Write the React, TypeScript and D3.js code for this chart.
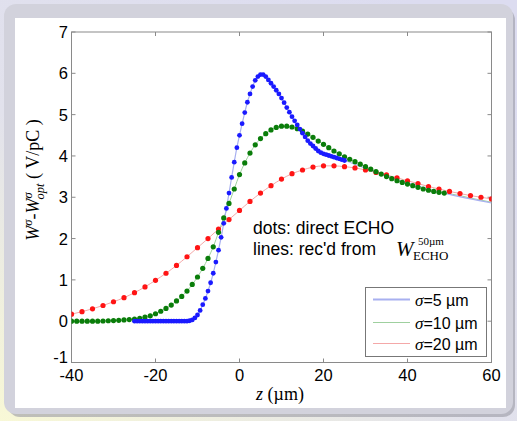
import React from "react";
import * as d3 from "d3";

// ---- data ----
const blueZ: number[] = d3.range(0, 81).map((i) => -25 + 0.625 * i);
const blueV: number[] = [
  0, 0, 0, 0, 0, 0, 0, 0, 0, 0,
  0, 0, 0, 0, 0, 0, 0, 0, 0, 0,
  0, 0.01, 0.03, 0.08, 0.15, 0.26, 0.4, 0.55, 0.73, 0.93,
  1.16, 1.43, 1.72, 2.03, 2.37, 2.73, 3.1, 3.48, 3.85, 4.2,
  4.5, 4.78, 5.05, 5.3, 5.5, 5.68, 5.83, 5.92, 5.97, 5.97,
  5.92, 5.84, 5.76, 5.68, 5.59, 5.5, 5.4, 5.29, 5.17, 5.06,
  4.95, 4.85, 4.75, 4.65, 4.55, 4.46, 4.37, 4.3, 4.24, 4.18,
  4.12, 4.08, 4.05, 4.03, 4.01, 3.99, 3.97, 3.95, 3.93, 3.91,
  3.89,
];
const blueTailZ: number[] = [30, 35, 40, 45, 50, 55, 60];
const blueTailV: number[] = [3.7, 3.52, 3.35, 3.2, 3.07, 2.96, 2.86];

const greenZ: number[] = d3.range(0, 72).map((i) => -40 + 1.25 * i);
const greenV: number[] = [
  0, 0, 0, 0, 0, 0, 0.005, 0.01, 0.015, 0.02,
  0.03, 0.04, 0.05, 0.07, 0.1, 0.13, 0.18, 0.24, 0.31, 0.39,
  0.49, 0.6, 0.73, 0.89, 1.07, 1.28, 1.52, 1.8, 2.15, 2.5,
  2.85, 3.2, 3.55, 3.83, 4.07, 4.27, 4.42, 4.54, 4.63, 4.69,
  4.72, 4.72, 4.7, 4.66, 4.6, 4.53, 4.45, 4.36, 4.28, 4.2,
  4.12, 4.05, 3.98, 3.92, 3.86, 3.8, 3.74, 3.68, 3.62, 3.56,
  3.5, 3.45, 3.4, 3.36, 3.32, 3.28, 3.24, 3.2, 3.17, 3.14,
  3.12, 3.1,
];
const greenTailZ: number[] = [52.5, 55, 57.5, 60];
const greenTailV: number[] = [3.04, 2.98, 2.93, 2.88];

const redZ: number[] = d3.range(0, 41).map((i) => -40 + 2.5 * i);
const redV: number[] = [
  0.17, 0.23, 0.3, 0.38, 0.47, 0.57, 0.69, 0.83, 0.99, 1.16,
  1.35, 1.56, 1.78, 2.0, 2.23, 2.46, 2.68, 2.9, 3.1, 3.28,
  3.44, 3.57, 3.66, 3.73, 3.76, 3.76, 3.74, 3.71, 3.66, 3.6,
  3.54, 3.47, 3.4, 3.33, 3.26, 3.2, 3.14, 3.09, 3.04, 3.0,
  2.96,
];

const xTicks: number[] = [-40, -20, 0, 20, 40, 60];
const yTicks: number[] = [-1, 0, 1, 2, 3, 4, 5, 6, 7];
const legendLabels: string[] = ["=5 \u00b5m", "=10 \u00b5m", "=20 \u00b5m"];

const DOT = { blue: "#1a1aff", green: "#0a7d0a", red: "#ff1414" };
const LINE = { blue: "#a8b0f0", green: "#9fd09f", red: "#f4a8a8" };

const W = 517;
const H = 421;
const PL = 71.5, PR = 491.5, PT = 32, PB = 362.5;

export default function App() {
  const x = d3.scaleLinear().domain([-40, 60]).range([PL, PR]);
  const y = d3.scaleLinear().domain([-1, 7]).range([PB, PT]);
  const line = d3
    .line<[number, number]>()
    .x((d) => x(d[0]))
    .y((d) => y(d[1]))
    .curve(d3.curveMonotoneX);

  const zip = (a: number[], b: number[]) => a.map((v, i) => [v, b[i]] as [number, number]);
  const blue = zip(blueZ, blueV);
  const green = zip(greenZ, greenV);
  const red = zip(redZ, redV);
  const blueLine = [...blue, ...zip(blueTailZ, blueTailV)];
  const greenLine = [...green, ...zip(greenTailZ, greenTailV)];

  const sans = "Liberation Sans, Arial, sans-serif";
  const serif = "Liberation Serif, Times New Roman, serif";

  return (
    <svg width={W} height={H} style={{ position: "absolute", left: 0, top: 0, display: "block" }}>
      <defs>
        <linearGradient id="bg" x1="0.8" y1="0" x2="0" y2="1">
          <stop offset="0" stopColor="#dcdcf0" />
          <stop offset="0.55" stopColor="#e2e2ec" />
          <stop offset="1" stopColor="#f8f8d6" />
        </linearGradient>
        <clipPath id="plotclip">
          <rect x={PL} y={PT} width={PR - PL} height={PB - PT} />
        </clipPath>
      </defs>
      <rect x={0} y={0} width={W} height={H} fill="url(#bg)" />
      {/* shadow */}
      <rect x={8} y={8} width={507} height={409} rx={12} fill="#9a9aa4" opacity={0.6} />
      <rect x={4} y={4} width={509} height={410} rx={12} fill="#d2d2dc" />
      <rect x={15} y={18} width={491} height={390} fill="#ffffff" />

      {/* axes box */}
      <rect x={PL} y={PT} width={PR - PL} height={PB - PT} fill="none" stroke="#8a8a8a" strokeWidth={1} />
      {xTicks.map((t) => (
        <g key={"xt" + t}>
          <line x1={x(t)} x2={x(t)} y1={PB} y2={PB - 4} stroke="#8a8a8a" />
          <line x1={x(t)} x2={x(t)} y1={PT} y2={PT + 4} stroke="#8a8a8a" />
          <text x={x(t)} y={381} textAnchor="middle" fontFamily={sans} fontSize={16.5} fill="#000">
            {t}
          </text>
        </g>
      ))}
      {yTicks.map((t) => (
        <g key={"yt" + t}>
          <line x1={PL} x2={PL + 4} y1={y(t)} y2={y(t)} stroke="#8a8a8a" />
          <line x1={PR} x2={PR - 4} y1={y(t)} y2={y(t)} stroke="#8a8a8a" />
          <text
            x={68}
            y={t === -1 ? y(t) + 0.5 : y(t) + 6}
            textAnchor="end"
            fontFamily={sans}
            fontSize={16.5}
            fill="#000"
          >
            {t}
          </text>
        </g>
      ))}

      {/* axis labels */}
      <text
        transform="translate(39,180) rotate(-90)"
        textAnchor="middle"
        fontFamily={serif}
        fontSize={18}
        fill="#000"
      >
        <tspan fontStyle="italic">W</tspan>
        <tspan fontStyle="italic" fontSize={12.5} dy={-7}>σ</tspan>
        <tspan dy={7}>-</tspan>
        <tspan fontStyle="italic">W</tspan>
        <tspan fontStyle="italic" fontSize={12.5} dy={-7}>σ</tspan>
        <tspan fontStyle="italic" fontSize={12.5} dx={-7} dy={12}>opt</tspan>
        <tspan dy={-5}> ( V/pC )</tspan>
      </text>
      <text x={280} y={400} textAnchor="middle" fontFamily={serif} fontSize={18} fill="#000">
        <tspan fontStyle="italic">z</tspan> (µm)
      </text>

      {/* series */}
      <g clipPath="url(#plotclip)">
        <path d={line(red) || ""} fill="none" stroke={LINE.red} strokeWidth={1} />
        <path d={line(greenLine) || ""} fill="none" stroke={LINE.green} strokeWidth={1} />
        <path d={line(blueLine) || ""} fill="none" stroke={LINE.blue} strokeWidth={1.2} />
        {red.map((d, i) => (
          <circle key={"r" + i} cx={x(d[0])} cy={y(d[1])} r={2.6} fill={DOT.red} />
        ))}
        {green.map((d, i) => (
          <circle key={"g" + i} cx={x(d[0])} cy={y(d[1])} r={2.6} fill={DOT.green} />
        ))}
        {blue.map((d, i) => (
          <circle key={"b" + i} cx={x(d[0])} cy={y(d[1])} r={2.4} fill={DOT.blue} />
        ))}
      </g>

      {/* annotation */}
      <text x={253} y={234} fontFamily={sans} fontSize={17.5} fill="#000">dots: direct ECHO</text>
      <text x={253} y={255} fontFamily={sans} fontSize={17.5} fill="#000">lines: rec'd from</text>
      <text x={396} y={256} fontFamily={serif} fontStyle="italic" fontSize={21} fill="#000">W</text>
      <text x={418} y={245} fontFamily={serif} fontSize={11} fill="#000">50µm</text>
      <text x={413} y={260} fontFamily={serif} fontSize={13} fill="#000">ECHO</text>

      {/* legend */}
      <rect x={365.5} y={287.5} width={121} height={69} fill="#fff" stroke="#777" strokeWidth={1} />
      {legendLabels.map((lab, i) => {
        const yy = [299.5, 322.5, 343.5][i];
        const col = [LINE.blue, LINE.green, LINE.red][i];
        return (
          <g key={"lg" + i}>
            <line x1={373} x2={410} y1={yy} y2={yy} stroke={col} strokeWidth={i === 0 ? 2 : 1.2} />
            <text x={415} y={yy + 6} fontFamily={sans} fontSize={16} fill="#000">
              <tspan fontFamily={serif} fontStyle="italic" fontSize={17}>σ</tspan>
              {lab}
            </text>
          </g>
        );
      })}
    </svg>
  );
}
